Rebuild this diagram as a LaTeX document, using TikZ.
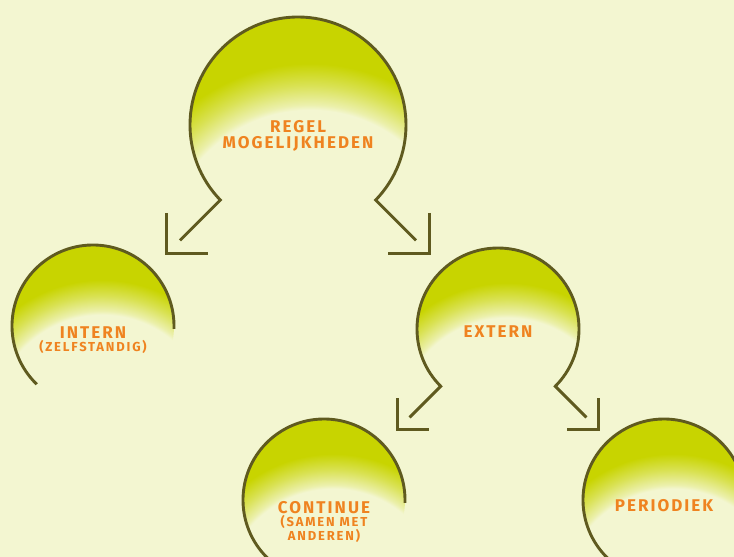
\documentclass[tikz,border=0pt]{standalone}
\usepackage{fontspec}
\setmainfont{Fira Sans}
\newfontfamily\lblfamily{Fira Sans}[LetterSpace=12]
\newfontfamily\smallfamily{Fira Sans}[LetterSpace=14]
\usetikzlibrary{calc,positioning}

\definecolor{bg}{HTML}{F3F6D1}
\definecolor{lime}{HTML}{C8D400}
\definecolor{rim}{HTML}{5F5A1F}
\definecolor{tangerine}{HTML}{EF8320}
\colorlet{limeA}{lime!18!bg}
\colorlet{limeB}{lime!60!bg}

\pgfdeclareradialshading{glow}{\pgfpointorigin}{color(0bp)=(bg); color(13.5bp)=(bg); color(14bp)=(limeA); color(15.8bp)=(limeB); color(17.8bp)=(lime); color(50bp)=(lime)}

\newcommand{\bigfont}{\lblfamily\bfseries\fontsize{17}{17}\selectfont}
\newcommand{\smallfont}{\smallfamily\bfseries\fontsize{13}{14}\selectfont}

% gradient inside a bubble: node name, radius
\newcommand{\glowfill}[2]{%
  \begin{scope}
    \clip (#1) circle[radius=#2];
    \shade[shading=glow] ($(#1)+(0.11*#2,-1.21*#2)$) circle[radius=2.5*#2];
  \end{scope}}

\begin{document}
\begin{tikzpicture}[x=1pt, y=1pt,
    bubble/.style={circle, inner sep=0pt, outer sep=0pt, minimum size=#1},
    lbl/.style={font=\bigfont, text=tangerine, align=center, anchor=base},
    rimline/.style={draw=rim, line width=2.9pt, line join=miter}]
  \fill[bg] (0,0) rectangle (734,-557);
  \useasboundingbox (0,0) rectangle (734,-557);

  % bubbles
  \node[bubble=216pt] (regel) at (298,-125) {};
  \node[bubble=162pt] (intern) at (93,-326) {};
  \node[bubble=162pt] (extern) at (498,-329) {};
  \node[bubble=162pt] (continue) at (324,-500) {};
  \node[bubble=162pt] (periodiek) at (664,-500) {};

  \glowfill{regel}{108}
  \glowfill{intern}{81}
  \glowfill{extern}{81}
  \glowfill{continue}{81}
  \glowfill{periodiek}{81}

  % line ends and arrow heads
  \coordinate (regelL) at ($(regel.224)+(225:57)$);
  \coordinate (regelR) at ($(regel.-44)+(-45:57)$);
  \coordinate (internHead) at ($(regelL)+(225:19)$);
  \coordinate (externHead) at ($(regelR)+(-45:19)$);
  \coordinate (externL) at ($(extern.225)+(225:44)$);
  \coordinate (externR) at ($(extern.-45)+(-45:44)$);
  \coordinate (continueHead) at ($(externL)+(225:17)$);
  \coordinate (periodiekHead) at ($(externR)+(-45:17)$);

  \draw[rimline] (regelL) -- (regel.224) arc[start angle=224, end angle=-44, radius=108] -- (regelR);
  \draw[rimline] ($(internHead)+(0,41)$) -- (internHead) -- ++(41,0);
  \draw[rimline] ($(externHead)+(0,41)$) -- (externHead) -- ++(-41,0);

  \draw[rimline] (externL) -- (extern.225) arc[start angle=225, end angle=-45, radius=81] -- (externR);
  \draw[rimline] ($(continueHead)+(0,31)$) -- (continueHead) -- ++(31,0);
  \draw[rimline] ($(periodiekHead)+(0,31)$) -- (periodiekHead) -- ++(-31,0);

  \draw[rimline] (intern.-2) arc[start angle=-2, end angle=226, radius=81];
  \draw[rimline] (continue.-2) arc[start angle=-2, end angle=226, radius=81];
  \draw[rimline] (periodiek.-2) arc[start angle=-2, end angle=226, radius=81];

  % labels (base = last line)
  \node[lbl] (regelT) at ([yshift=-23pt]regel.center) {REGEL\\[-1pt]MOGELIJKHEDEN};
  \node[lbl] (internT) at ([yshift=-25pt]intern.center) {INTERN\\[-4pt]{\smallfont (ZELFSTANDIG)}};
  \node[lbl] (externT) at ([yshift=-8pt]extern.center) {EXTERN};
  \node[lbl] (continueT) at ([yshift=-40pt]continue.center) {CONTINUE\\[-4pt]{\smallfont (SAMEN MET}\\[-3pt]{\smallfont ANDEREN)}};
  \node[lbl] (periodiekT) at ([yshift=-11pt]periodiek.center) {PERIODIEK};
\end{tikzpicture}
\end{document}
